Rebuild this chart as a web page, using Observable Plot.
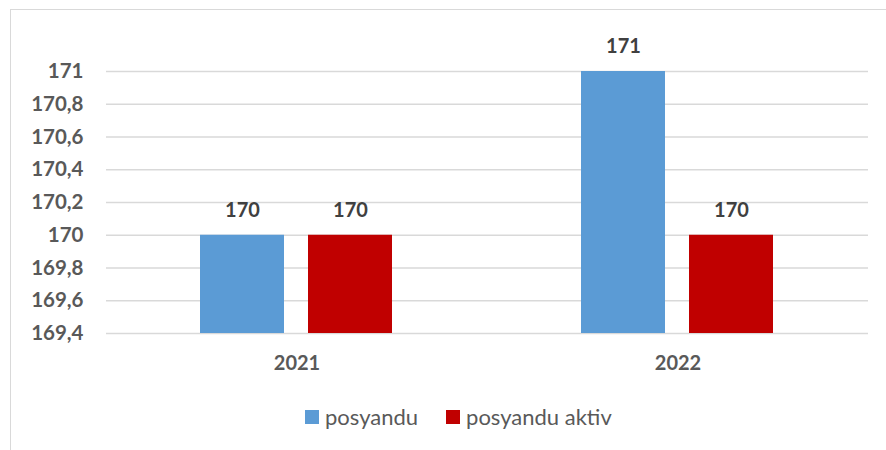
<!DOCTYPE html>
<html>
<head>
<meta charset="utf-8">
<script src="https://cdn.jsdelivr.net/npm/d3@7"></script>
<script src="https://cdn.jsdelivr.net/npm/@observablehq/plot@0.6"></script>
<style>
  html, body { margin: 0; padding: 0; background: #fff; }
  #wrap { position: relative; width: 886px; height: 450px; overflow: hidden; font-family: Lato, "Noto Sans", sans-serif; }
  #frame { position: absolute; left: 10px; top: 9px; width: 900px; height: 460px; border-top: 1.5px solid #d9d9d9; border-left: 1.5px solid #d9d9d9; }
  #chart { position: absolute; left: 0; top: 0; }
  #legend { position: absolute; left: 305px; top: 403px; display: flex; align-items: center; color: #595959; font-size: 22px; }
  .sw { width: 14px; height: 14px; display: inline-block; margin-right: 6px; }
  .item { display: flex; align-items: center; margin-right: 28px; }
</style>
</head>
<body>
<div id="wrap">
  <div id="frame"></div>
  <div id="chart"></div>
  <div id="legend"></div>
</div>
<script>
const years = ["2021", "2022"];
const seriesNames = ["posyandu", "posyandu aktiv"];
const posyandu = [170, 171];
const posyanduAktiv = [170, 170];
const yTicks = [169.4, 169.6, 169.8, 170, 170.2, 170.4, 170.6, 170.8, 171];
const colors = ["#5B9BD5", "#C00000"];

const data = [];
years.forEach((y, i) => {
  data.push({year: y, series: seriesNames[0], value: posyandu[i]});
  data.push({year: y, series: seriesNames[1], value: posyanduAktiv[i]});
});

const fmt = d => (+(+d).toFixed(1)).toString().replace(".", ",");

const chart = Plot.plot({
  width: 886,
  height: 395,
  marginLeft: 105,
  marginRight: 18,
  marginTop: 71,
  marginBottom: 62,
  style: { fontFamily: "Lato, 'Noto Sans', sans-serif", background: "transparent" },
  fx: { domain: years, padding: 0, label: null, axis: null },
  x: { domain: seriesNames, paddingInner: 0.22, paddingOuter: 0.86, axis: null },
  y: { domain: [169.4, 171], axis: null },
  color: { domain: seriesNames, range: colors },
  marks: [
    Plot.ruleY(yTicks, { stroke: "#d9d9d9", strokeWidth: 1.5 }),
    Plot.barY(data, { fx: "year", x: "series", y1: 169.4, y2: "value", fill: "series" }),
    Plot.text(data, { fx: "year", x: "series", y: "value", text: d => fmt(d.value), dy: -25, fontSize: 20, fontWeight: "bold", fill: "#404040" }),
    Plot.axisY({ ticks: yTicks, tickFormat: fmt, tickSize: 0, tickPadding: 23, fontSize: 20.5, fontWeight: "bold", color: "#595959", label: null, anchor: "left", facetAnchor: "left" }),
    Plot.axisFx({ anchor: "bottom", tickSize: 0, tickPadding: 22, fontSize: 20, fontWeight: "bold", color: "#595959", label: null })
  ]
});
document.getElementById("chart").appendChild(chart);

const legend = document.getElementById("legend");
seriesNames.forEach((s, i) => {
  const item = document.createElement("div");
  item.className = "item";
  const sw = document.createElement("span");
  sw.className = "sw";
  sw.style.background = colors[i];
  const t = document.createElement("span");
  t.textContent = s;
  item.appendChild(sw);
  item.appendChild(t);
  legend.appendChild(item);
});
</script>
</body>
</html>
